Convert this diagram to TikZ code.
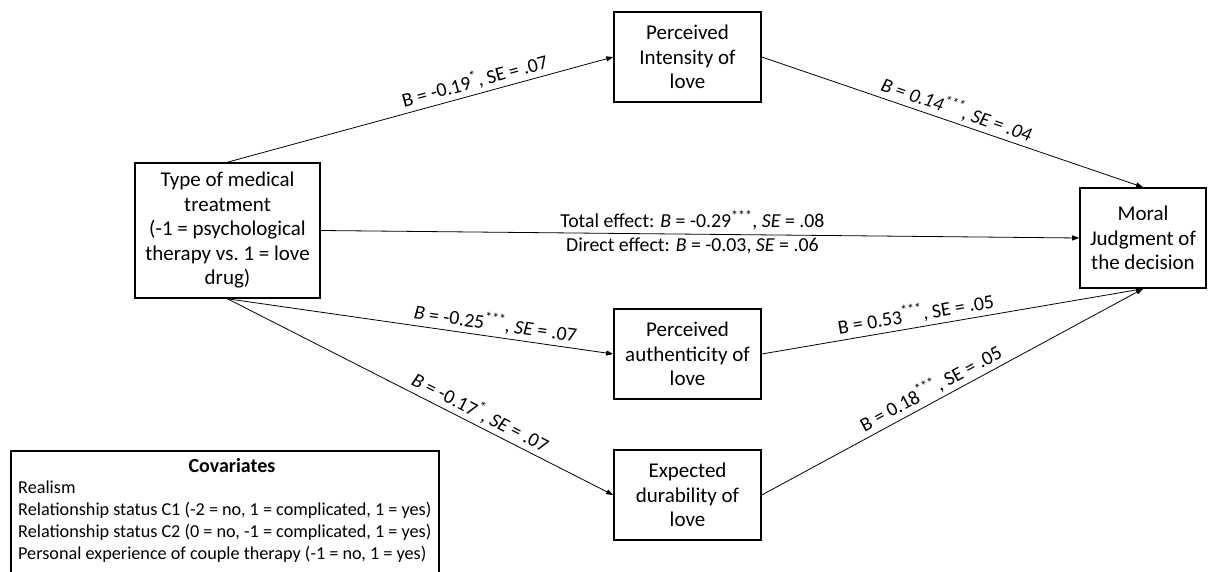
\documentclass[tikz,border=0pt]{standalone}
\usepackage{fontspec}
\setmainfont{Carlito}
\usetikzlibrary{arrows.meta}
\tikzset{
  box/.style={draw, line width=1.6pt, align=center, inner sep=0pt,
    font=\fontsize{21}{24.5}\selectfont},
  arr/.style={-{Triangle[length=7pt,width=5pt]}, line width=0.8pt},
  lab/.style={font=\fontsize{19.8}{22}\selectfont, inner sep=3.5pt},
  cov/.style={font=\fontsize{18.2}{22}\selectfont, align=left, inner sep=0pt}
}
\newcommand{\st}[1]{\textsuperscript{#1}}
\begin{document}
\begin{tikzpicture}[x=1pt,y=-1pt]
\path[use as bounding box] (0,0) rectangle (1208,572);
\clip (0,0) rectangle (1208,572);

\node[box, minimum width=185, minimum height=135] (treat) at (227.5,230.5)
  {Type of medical\\treatment\\(-1 = psychological\\therapy vs.\ 1 = love\\drug)};
\node[box, minimum width=147, minimum height=90] (int) at (687.5,57)
  {Perceived\\Intensity of\\love};
\node[box, minimum width=147, minimum height=90] (auth) at (687.5,354)
  {Perceived\\authenticity of\\love};
\node[box, minimum width=147, minimum height=90] (dur) at (687.5,495)
  {Expected\\durability of\\love};
\node[box, minimum width=126, minimum height=100] (moral) at (1143,238)
  {Moral\\Judgment of\\the decision};

\draw[arr] (treat.north) -- (int.west)
  node[lab, pos=0.65, above, sloped] (l1) {B = -0.19\st{*}, SE = .07};
\draw[arr] (int.east) -- (moral.north)
  node[lab, pos=0.5, above, sloped] (l2) {\textit{B = 0.14\st{***}, SE = .04}};
\draw[arr] (treat.east) -- (moral.west)
  node[lab, pos=0.49, above] (l3) {Total effect: \textit{B} = -0.29\st{***}, \textit{SE} = .08}
  node[lab, pos=0.49, below] (l4) {Direct effect: \textit{B} = -0.03, \textit{SE} = .06};
\draw[arr] (treat.south) -- (auth.west)
  node[lab, pos=0.69, above, sloped] (l5) {\textit{B} = -0.25\st{***}, \textit{SE} = .07};
\draw[arr] (treat.south) -- (dur.west)
  node[lab, pos=0.64, above, sloped] (l6) {\textit{B} = -0.17\st{*}, \textit{SE} = .07};
\draw[arr] (auth.east) -- (moral.south)
  node[lab, pos=0.41, above, sloped] (l7) {B = 0.53\st{***}, SE = .05};
\draw[arr] (dur.east) -- (moral.south)
  node[lab, pos=0.46, above, sloped] (l8) {B = 0.18\st{***}, SE = .05};

\node[draw, line width=1.6pt, anchor=north west, minimum width=428,
  minimum height=140, inner sep=0pt] (covbox) at (10,450) {};
\node[cov, font=\fontsize{20}{22}\selectfont\bfseries] (covt) at (232,466) {Covariates};
\node[cov, anchor=north west] (covl) at (18,481)
  {Realism\\
   Relationship status C1 (-2 = no, 1 = complicated, 1 = yes)\\
   Relationship status C2 (0 = no, -1 = complicated, 1 = yes)\\
   Personal experience of couple therapy (-1 = no, 1 = yes)};
\end{tikzpicture}
\end{document}
